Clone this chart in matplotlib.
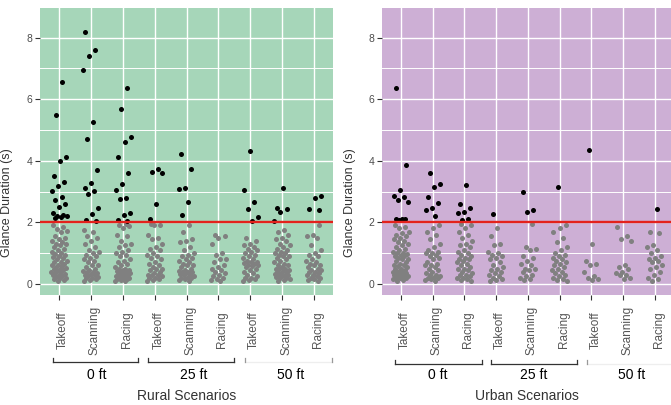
import numpy as np
import matplotlib
matplotlib.use('Agg')
import matplotlib.pyplot as plt
from matplotlib.transforms import blended_transform_factory, ScaledTranslation
from matplotlib.lines import Line2D

plt.rcParams['font.family'] = ['Liberation Sans', 'DejaVu Sans']

# ---------------- data ----------------
activities = ['Takeoff', 'Scanning', 'Racing']
heights = ['0 ft', '25 ft', '50 ft']
categories = [a for h in heights for a in activities]
y_ticks = [0, 2, 4, 6, 8]
threshold = 2.0

rural_above = [
    [6.57, 5.47, 4.11, 3.98, 3.52, 3.30, 3.18, 3.02, 2.81, 2.71, 2.60, 2.49, 2.29, 2.25, 2.22, 2.20, 2.18, 2.15],
    [8.19, 7.58, 7.41, 6.95, 5.25, 4.70, 3.70, 3.27, 3.11, 3.03, 2.92, 2.46, 2.28, 2.06, 2.03],
    [6.36, 5.69, 4.76, 4.60, 4.13, 3.61, 3.25, 3.04, 2.80, 2.77, 2.29, 2.25, 2.08, 2.05],
    [3.73, 3.64, 3.61, 2.60, 2.12],
    [4.23, 3.73, 3.11, 3.08, 2.65, 2.25],
    [],
    [4.33, 3.05, 2.65, 2.44, 2.16, 2.05],
    [3.13, 2.48, 2.42, 2.35, 2.05],
    [2.86, 2.80, 2.44, 2.40],
]
rural_below = [
    [1.90, 1.85, 1.78, 1.72, 1.70, 1.55, 1.50, 1.45, 1.40, 1.35, 1.30, 1.28, 1.25, 1.20, 1.15, 1.10, 1.05, 1.00,
     0.98, 0.95, 0.90, 0.88, 0.85, 0.80, 0.75, 0.72, 0.70, 0.65, 0.62, 0.60, 0.58, 0.55, 0.52, 0.50, 0.48, 0.45,
     0.42, 0.40, 0.38, 0.35, 0.32, 0.30, 0.28, 0.25, 0.22, 0.20, 0.18, 0.15, 0.12, 0.10],
    [1.75, 1.70, 1.55, 1.50, 1.40, 1.30, 1.20, 1.10, 1.05, 1.00, 0.95, 0.90, 0.85, 0.80, 0.75, 0.70, 0.62, 0.60,
     0.55, 0.50, 0.45, 0.42, 0.40, 0.38, 0.35, 0.32, 0.30, 0.28, 0.25, 0.22, 0.20, 0.18, 0.15, 0.12, 0.10],
    [1.95, 1.90, 1.88, 1.80, 1.60, 1.55, 1.40, 1.30, 1.25, 1.20, 1.10, 1.05, 1.00, 0.95, 0.90, 0.80, 0.75, 0.70,
     0.65, 0.60, 0.55, 0.50, 0.48, 0.45, 0.45, 0.42, 0.40, 0.38, 0.35, 0.35, 0.32, 0.30, 0.28, 0.25, 0.25, 0.22,
     0.20, 0.18, 0.15, 0.15, 0.12, 0.10, 0.10],
    [1.95, 1.90, 1.90, 1.60, 1.50, 1.45, 1.30, 1.20, 1.15, 1.10, 1.00, 0.95, 0.90, 0.85, 0.80, 0.70, 0.65, 0.60,
     0.55, 0.50, 0.50, 0.45, 0.40, 0.35, 0.30, 0.30, 0.28, 0.25, 0.20, 0.18, 0.15, 0.12, 0.10],
    [1.90, 1.70, 1.45, 1.40, 1.35, 1.20, 1.10, 1.00, 0.95, 0.90, 0.85, 0.80, 0.75, 0.70, 0.65, 0.60, 0.60, 0.55,
     0.50, 0.45, 0.42, 0.40, 0.40, 0.38, 0.35, 0.32, 0.30, 0.28, 0.25, 0.22, 0.20, 0.18, 0.15, 0.12, 0.10],
    [1.60, 1.55, 1.50, 1.30, 1.00, 0.95, 0.80, 0.80, 0.70, 0.60, 0.55, 0.50, 0.45, 0.40, 0.35, 0.30, 0.25, 0.20,
     0.15, 0.12, 0.10],
    [1.50, 1.40, 1.30, 1.25, 1.20, 1.15, 1.10, 1.05, 1.00, 0.95, 0.90, 0.85, 0.80, 0.75, 0.70, 0.70, 0.68, 0.65,
     0.60, 0.60, 0.58, 0.55, 0.50, 0.45, 0.40, 0.35, 0.30, 0.25, 0.20, 0.18, 0.15, 0.12, 0.10],
    [1.75, 1.70, 1.60, 1.50, 1.45, 1.40, 1.30, 1.25, 1.20, 1.15, 1.10, 1.05, 1.00, 1.00, 0.95, 0.90, 0.90, 0.85,
     0.80, 0.75, 0.70, 0.65, 0.60, 0.60, 0.55, 0.50, 0.50, 0.48, 0.45, 0.42, 0.40, 0.38, 0.35, 0.32, 0.30, 0.30,
     0.28, 0.25, 0.22, 0.20, 0.18, 0.15, 0.12, 0.10],
    [1.90, 1.60, 1.55, 1.50, 1.25, 1.10, 1.00, 0.95, 0.90, 0.80, 0.75, 0.70, 0.65, 0.60, 0.60, 0.55, 0.50, 0.45,
     0.45, 0.40, 0.38, 0.35, 0.30, 0.28, 0.25, 0.20, 0.18, 0.15, 0.12, 0.10],
]
urban_above = [
    [6.36, 3.87, 3.05, 2.86, 2.81, 2.72, 2.67, 2.12, 2.10, 2.10, 2.08],
    [3.59, 3.25, 3.15, 2.81, 2.63, 2.46, 2.40, 2.19],
    [3.21, 2.60, 2.45, 2.35, 2.30, 2.12, 2.07],
    [2.26],
    [3.00, 2.40, 2.34],
    [3.15],
    [4.35],
    [],
    [2.44],
]
urban_below = [
    [1.90, 1.85, 1.80, 1.70, 1.65, 1.60, 1.55, 1.50, 1.45, 1.40, 1.35, 1.30, 1.25, 1.20, 1.15, 1.10, 1.05, 1.00,
     1.00, 0.98, 0.95, 0.90, 0.90, 0.85, 0.82, 0.80, 0.75, 0.70, 0.65, 0.60, 0.60, 0.58, 0.55, 0.50, 0.48, 0.45,
     0.42, 0.40, 0.40, 0.38, 0.35, 0.32, 0.30, 0.30, 0.28, 0.25, 0.22, 0.20, 0.20, 0.18, 0.15, 0.12, 0.10],
    [1.90, 1.80, 1.70, 1.60, 1.45, 1.30, 1.20, 1.10, 1.05, 1.00, 1.00, 0.95, 0.90, 0.85, 0.80, 0.70, 0.65, 0.60,
     0.60, 0.55, 0.50, 0.45, 0.40, 0.35, 0.30, 0.28, 0.25, 0.22, 0.20, 0.18, 0.15, 0.12, 0.10],
    [1.95, 1.90, 1.80, 1.70, 1.60, 1.50, 1.40, 1.30, 1.25, 1.20, 1.10, 1.05, 1.00, 0.95, 0.90, 0.85, 0.80, 0.80,
     0.75, 0.70, 0.65, 0.60, 0.55, 0.50, 0.50, 0.45, 0.40, 0.35, 0.30, 0.28, 0.25, 0.20, 0.18, 0.15, 0.12, 0.10],
    [1.80, 1.55, 1.30, 1.25, 1.05, 1.00, 0.95, 0.90, 0.85, 0.80, 0.70, 0.60, 0.55, 0.50, 0.45, 0.40, 0.35, 0.30,
     0.25, 0.20, 0.15, 0.12, 0.10],
    [1.95, 1.20, 1.15, 1.10, 0.90, 0.85, 0.75, 0.65, 0.60, 0.50, 0.50, 0.45, 0.40, 0.30, 0.25, 0.20, 0.15, 0.12],
    [1.90, 1.80, 1.70, 1.50, 1.35, 1.20, 1.10, 1.00, 0.95, 0.90, 0.85, 0.80, 0.75, 0.70, 0.65, 0.60, 0.55, 0.50,
     0.45, 0.40, 0.35, 0.30, 0.25, 0.20, 0.15, 0.12, 0.10],
    [1.30, 0.75, 0.65, 0.60, 0.40, 0.25, 0.20, 0.15, 0.12],
    [1.85, 1.55, 1.45, 1.40, 0.60, 0.55, 0.50, 0.40, 0.35, 0.30, 0.30, 0.20, 0.15],
    [1.70, 1.65, 1.25, 1.20, 1.10, 1.00, 0.90, 0.85, 0.80, 0.75, 0.70, 0.60, 0.55, 0.50, 0.40, 0.30, 0.20, 0.15,
     0.10],
]

# ---------------- layout ----------------
W, H = 671, 405
fig = plt.figure(figsize=(W / 100, H / 100), dpi=100)
fig.patch.set_facecolor('white')


def jitter(n, start, width=0.25):
    k = np.arange(start, start + n)
    return ((k * 0.6180339887 + 0.137) % 1.0 - 0.5) * 2 * width


def draw_panel(rect, above, below, bg, ylabel_x):
    ax = fig.add_axes(rect)
    ax.set_facecolor(bg)
    ax.set_xlim(0.4, 9.6)
    ax.set_ylim(-0.36, 8.96)
    ax.set_yticks(y_ticks)
    ax.set_yticklabels([str(t) for t in y_ticks])
    ax.set_yticks([1, 3, 5, 7], minor=True)
    ax.set_xticks(np.arange(1, len(categories) + 1))
    ax.set_xticklabels([''] * len(categories))
    ax.grid(which='major', color='white', lw=1.0)
    ax.grid(which='minor', axis='y', color='white', lw=0.7)
    ax.set_axisbelow(True)
    for s in ax.spines.values():
        s.set_visible(False)
    ax.tick_params(axis='both', which='major', length=3.5, color='#333333', width=0.8,
                   labelcolor='#4d4d4d', labelsize=7.5, pad=2)
    ax.tick_params(axis='y', which='minor', length=0)
    ctr = 0
    for i, vals in enumerate(below):
        xs = i + 1 + jitter(len(vals), ctr)
        ctr += len(vals)
        ax.scatter(xs, vals, s=13, c='#808080', linewidths=0, zorder=3)
    for i, vals in enumerate(above):
        xs = i + 1 + jitter(len(vals), ctr + 7)
        ctr += len(vals) + 7
        ax.scatter(xs, vals, s=13, c='black', linewidths=0, zorder=4)
    ax.axhline(threshold, color='#e3221c', lw=1.7, zorder=5)
    ax.set_ylabel('Glance Duration (s)', fontsize=9, color='#333333')
    ax.yaxis.set_label_coords(ylabel_x, 0.5, transform=fig.transFigure)
    # rotated category labels
    tr = blended_transform_factory(ax.transData, fig.transFigure) + \
        ScaledTranslation(4 / 100, 0, fig.dpi_scale_trans)
    for i, lab in enumerate(categories):
        ax.text(i + 1, 1 - 330 / H, lab, rotation=90, ha='center', va='center',
                fontsize=8.5, color='#555555', transform=tr)
    return ax


ax1 = draw_panel([40 / W, 1 - 295 / H, 293 / W, 287 / H], rural_above, rural_below,
                 '#a6d6b9', 13 / W)
ax2 = draw_panel([381.7 / W, 1 - 295 / H, 292.3 / W, 287 / H], urban_above, urban_below,
                 '#cdafd5', 356 / W)


def bracket(x0, x1, y, color, tipcolor=None):
    tipcolor = tipcolor or color
    fig.add_artist(Line2D([x0 / W, x1 / W], [1 - y / H, 1 - y / H], color=color, lw=0.9,
                          transform=fig.transFigure))
    for xx in (x0, x1):
        fig.add_artist(Line2D([xx / W, xx / W], [1 - y / H, 1 - (y - 4) / H], color=tipcolor,
                              lw=0.9, transform=fig.transFigure))


# left brackets
bracket(53, 138, 362, '#333333')
bracket(148, 234, 362, '#333333')
bracket(245, 332, 362, '#eeeeee', '#999999')
# right brackets
bracket(395, 482, 364, '#333333')
bracket(491, 577, 364, '#333333')
bracket(587, 680, 364, '#eeeeee', '#999999')

for x, lab in zip([97, 194, 291], heights):
    fig.text(x / W, 1 - 375 / H, lab, ha='center', va='center', fontsize=10, color='black')
for x, lab in zip([438, 534, 632], heights):
    fig.text(x / W, 1 - 375 / H, lab, ha='center', va='center', fontsize=10, color='black')

fig.text(187 / W, 1 - 396 / H, 'Rural Scenarios', ha='center', va='center', fontsize=10, color='#333333')
fig.text(527 / W, 1 - 396 / H, 'Urban Scenarios', ha='center', va='center', fontsize=10, color='#333333')

fig.savefig('out.png', dpi=100)
